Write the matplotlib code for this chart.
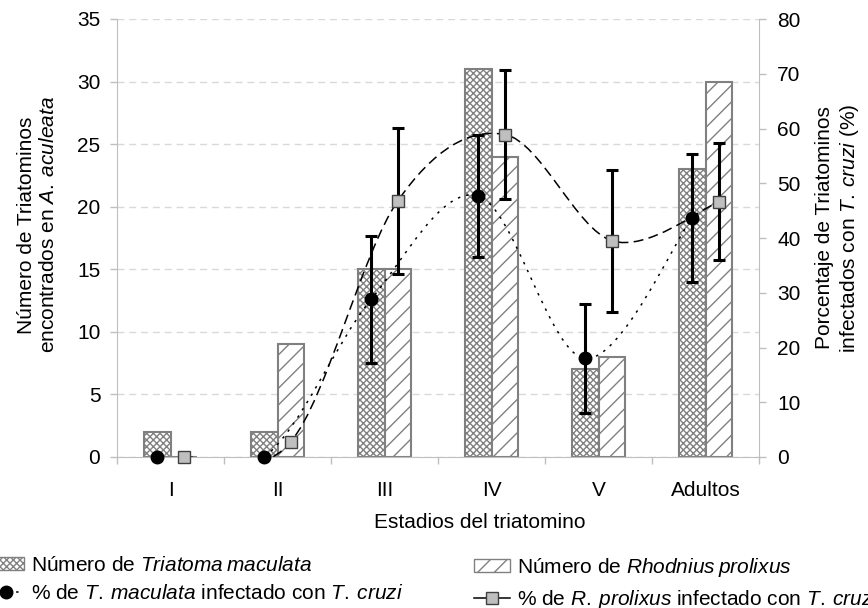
import matplotlib
matplotlib.use('Agg')
import matplotlib.pyplot as plt
from matplotlib.path import Path
from matplotlib.patches import PathPatch, Patch
from matplotlib.lines import Line2D
import numpy as np

plt.rcParams['font.family'] = ['Liberation Sans', 'DejaVu Sans']
plt.rcParams['mathtext.fontset'] = 'custom'
plt.rcParams['mathtext.rm'] = 'Liberation Sans'
plt.rcParams['mathtext.it'] = 'Liberation Sans:italic'
plt.rcParams['hatch.linewidth'] = 1.0

# Datos
estadios = ['I', 'II', 'III', 'IV', 'V', 'Adultos']
n_maculata = [2, 2, 15, 31, 7, 23]
n_prolixus = [0, 9, 15, 24, 8, 30]
pct_maculata = [0, 0, 28.8, 47.7, 18.0, 43.7]
err_maculata = [0, 0, 11.6, 11.2, 10.0, 11.7]
pct_prolixus = [0, 2.8, 46.8, 58.9, 39.5, 46.6]
err_prolixus = [0, 0, 13.3, 11.8, 13.0, 10.7]

GRIS = '#808080'
EJE = '#bfbfbf'
FS = 15


def it(s):
    # texto en cursiva con espacio normal entre palabras
    return r'\:'.join(r'\mathit{%s}' % p for p in s.split(' '))


def curva_suave(x, y):
    # spline tipo Catmull-Rom como la linea suavizada de Excel
    pts = np.column_stack([x, y]).astype(float)
    n = len(pts)
    verts = [pts[0]]
    codes = [Path.MOVETO]
    for i in range(n - 1):
        p0 = pts[max(i - 1, 0)]
        p1 = pts[i]
        p2 = pts[i + 1]
        p3 = pts[min(i + 2, n - 1)]
        verts += [p1 + (p2 - p0) / 6, p2 - (p3 - p1) / 6, p2]
        codes += [Path.CURVE4] * 3
    return Path(verts, codes)


fig = plt.figure(figsize=(8.68, 6.08), dpi=100)
ax = fig.add_axes([117 / 868, 1 - 457 / 608, 642 / 868, 438 / 608])
ax2 = ax.twinx()

x = np.arange(len(estadios))
w = 0.25
x_mac = x - w / 2
x_pro = x + w / 2

ax.bar(x_mac, n_maculata, w, color='white', edgecolor=GRIS, hatch='xxxxx', linewidth=1.5, zorder=2)
ax.bar(x_pro, n_prolixus, w, color='white', edgecolor=GRIS, hatch='//', linewidth=1.5, zorder=2)

ax.set_xlim(-0.5, 5.5)
ax.set_ylim(0, 35)
ax.set_yticks(range(0, 36, 5))
ax.set_axisbelow(True)
ax.yaxis.grid(True, color='#d9d9d9', linestyle=(0, (5, 3.5)), linewidth=1)

ax.set_xticks(np.arange(-0.5, 6, 1))
ax.set_xticklabels([])
ax.set_xticks(x, minor=True)
ax.set_xticklabels(estadios, minor=True, fontsize=FS)
ax.tick_params(axis='x', which='major', length=5, color=EJE, width=1)
ax.tick_params(axis='x', which='minor', length=0, pad=17)
ax.tick_params(axis='y', length=5, color=EJE, width=1, labelsize=FS, pad=7)

for s in ['top', 'right']:
    ax.spines[s].set_visible(False)
ax.spines['left'].set_color(EJE)
ax.spines['bottom'].set_color(EJE)

# series de porcentaje (eje secundario)
ax2.set_ylim(0, 80)
ax2.set_yticks(range(0, 81, 10))
ax2.tick_params(axis='y', length=5, color=EJE, width=1, labelsize=FS, pad=8)
for s in ['top', 'left', 'bottom']:
    ax2.spines[s].set_visible(False)
ax2.spines['right'].set_color(EJE)

ax2.add_patch(PathPatch(curva_suave(x_mac, pct_maculata), fill=False, edgecolor='black',
                        linewidth=1.1, linestyle=(0, (1.6, 4)), zorder=2))
ax2.add_patch(PathPatch(curva_suave(x_pro, pct_prolixus), fill=False, edgecolor='black',
                        linewidth=1.1, linestyle=(0, (6.5, 3.5)), zorder=2))

em = np.array(err_maculata)
ep = np.array(err_prolixus)
km = em > 0
kp = ep > 0
ax2.errorbar(x_mac[km], np.array(pct_maculata)[km], yerr=em[km], fmt='none', ecolor='black',
             elinewidth=2.2, capsize=4, capthick=2.2, zorder=3)
ax2.errorbar(x_pro[kp], np.array(pct_prolixus)[kp], yerr=ep[kp], fmt='none', ecolor='black',
             elinewidth=2.2, capsize=4, capthick=2.2, zorder=3)

ax2.plot(x_mac, pct_maculata, 'o', color='black', markersize=9, zorder=4, clip_on=False)
ax2.plot(x_pro, pct_prolixus, 's', markerfacecolor='#bfbfbf', markeredgecolor='#404040',
         markeredgewidth=1.0, markersize=9, zorder=4, clip_on=False)

# titulos de ejes
ax.set_ylabel('Número de Triatominos\nencontrados en $%s$' % it('A. aculeata'),
              fontsize=FS, va='center')
ax.yaxis.set_label_coords((37.5 - 117) / 642, (457 - 225) / 438)
ax2.set_ylabel('Porcentaje de Triatominos\ninfectados con $%s$ (%%)' % it('T. cruzi'),
               fontsize=FS, rotation=90, va='center')
ax2.yaxis.set_label_coords((838 - 117) / 642, (457 - 228) / 438)
ax.set_xlabel('Estadios del triatomino', fontsize=FS, va='center')
ax.xaxis.set_label_coords((480 - 117) / 642, (457 - 523) / 438)

# leyenda
h_mac_n = Patch(facecolor='white', edgecolor=GRIS, hatch='xxxxx', linewidth=1.0)
h_pro_n = Patch(facecolor='white', edgecolor=GRIS, hatch='//', linewidth=1.0)
h_mac_p = Line2D([], [], color='black', linestyle=(0, (1.6, 4)), linewidth=1.1,
                 marker='o', markersize=9)
h_pro_p = Line2D([], [], color='black', linestyle='-', linewidth=1.1,
                 marker='s', markersize=9, markerfacecolor='#bfbfbf', markeredgecolor='#404040')

opts = dict(loc='upper left', frameon=False, fontsize=FS, borderpad=0, borderaxespad=0,
            handlelength=1.75, handleheight=0.6, handletextpad=0.3, labelspacing=0.45, numpoints=1)
fig.legend(handles=[h_mac_n, h_mac_p],
           labels=['Número de $%s$' % it('Triatoma maculata'),
                   '%% de $%s$ infectado con $%s$' % (it('T. maculata'), it('T. cruzi'))],
           bbox_to_anchor=(-12 / 868, 1 - 556 / 608), **opts)
fig.legend(handles=[h_pro_n, h_pro_p],
           labels=['Número de $%s$' % it('Rhodnius prolixus'),
                   '%% de $%s$ infectado con $%s$' % (it('R. prolixus'), it('T. cruzi'))],
           bbox_to_anchor=(474 / 868, 1 - 556 / 608), **opts)

fig.savefig('out.png', dpi=100)
